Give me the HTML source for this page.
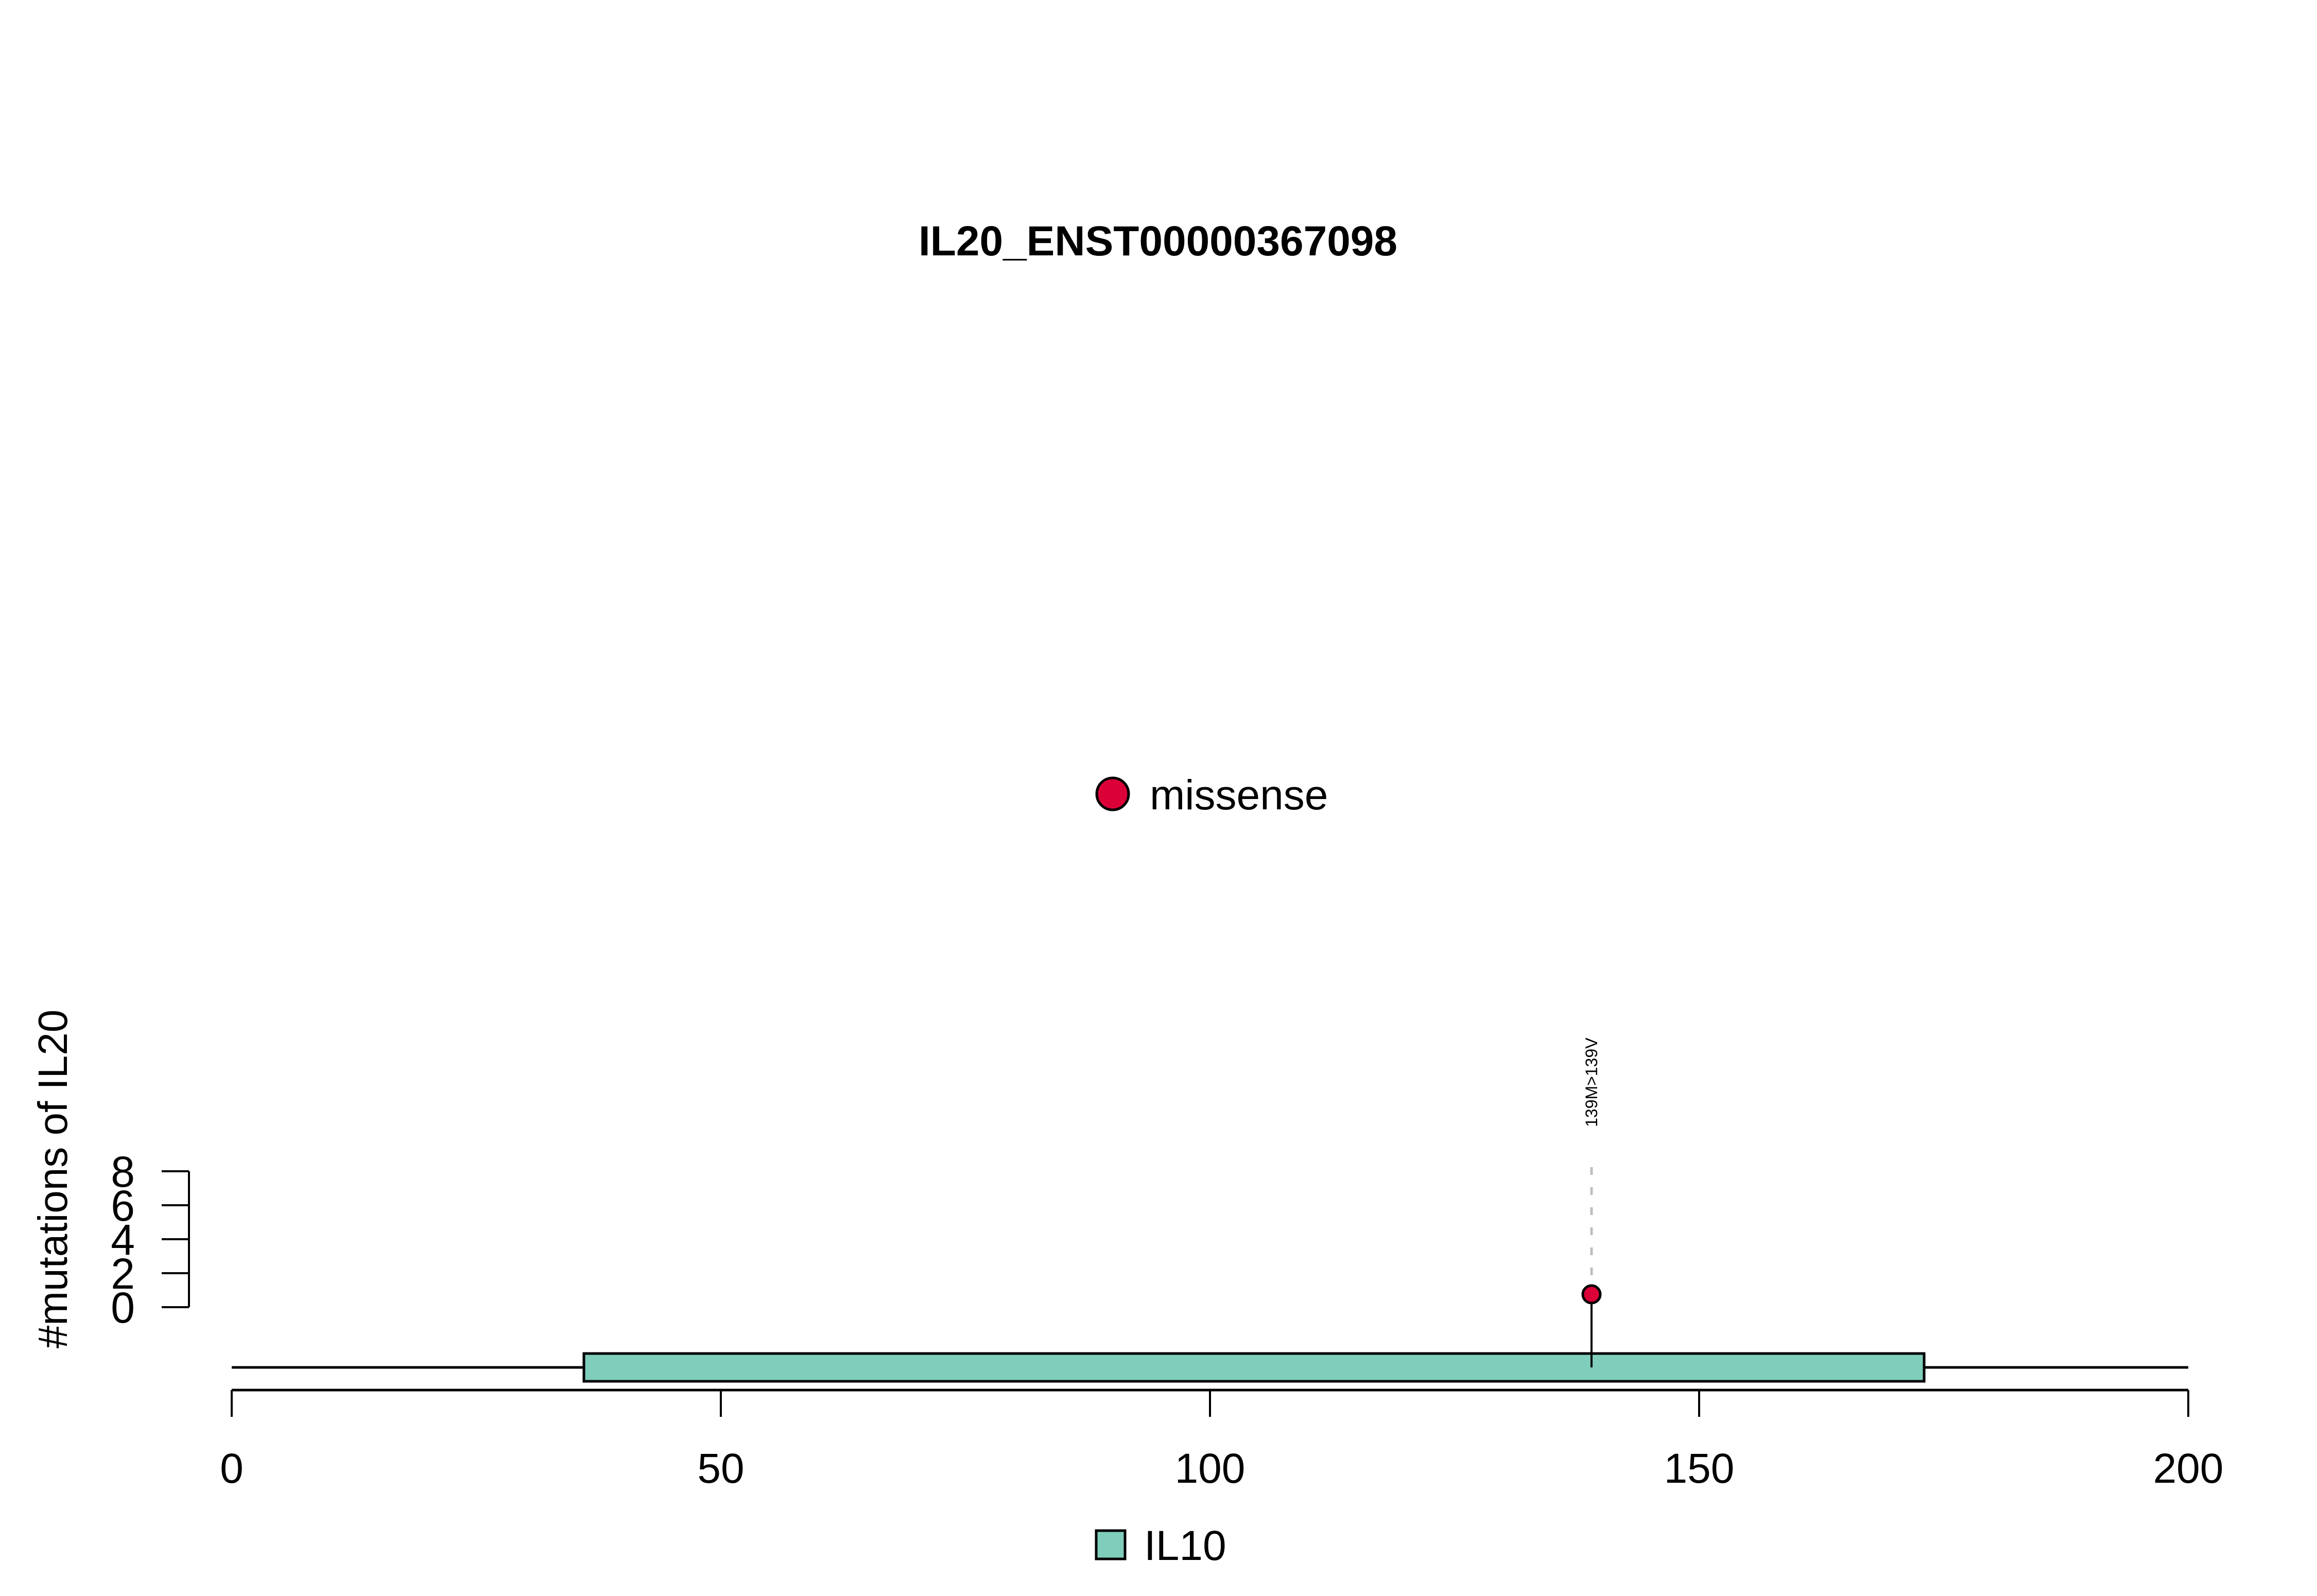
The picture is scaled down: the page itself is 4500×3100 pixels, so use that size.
<!DOCTYPE html>
<html><head><meta charset="utf-8"><style>
html,body{margin:0;padding:0;background:#fff;}
svg{display:block;font-family:"Liberation Sans",Arial,sans-serif;}
</style></head><body>
<svg id="chart" width="4500" height="3100" viewBox="0 0 4500 3100" xmlns="http://www.w3.org/2000/svg">
<rect width="4500" height="3100" fill="#fff"/>
<text x="2249" y="496" text-anchor="middle" font-size="82" font-weight="bold">IL20_ENST00000367098</text>
<g>
<circle cx="2161" cy="1542" r="31" fill="#DC0039" stroke="#000" stroke-width="5"/>
<text x="2233" y="1572" font-size="82">missense</text>
</g>
<text transform="translate(130,2290) rotate(-90)" text-anchor="middle" font-size="80">#mutations of IL20</text>
<g id="plot"></g>
<g>
<rect x="2129" y="2973" width="56" height="55" fill="#7FCDBB" stroke="#000" stroke-width="5"/>
<text x="2222" y="3030" font-size="82">IL10</text>
</g>
</svg>
<script>
const xTicks = [0, 50, 100, 150, 200];
const yTicks = [0, 2, 4, 6, 8];
const proteinLength = [200];
const domainNames = ["IL10"];
const domainStarts = [36];
const domainEnds = [173];
const mutPositions = [139];
const mutCounts = [1];
const mutLabels = ["139M>139V"];

const NS = "http://www.w3.org/2000/svg";
const g = document.getElementById("plot");
const xS = v => 450 + v * 19;
const yS = v => 2539 - v * 33;
function mk(tag, attrs, parent) {
  const e = document.createElementNS(NS, tag);
  for (const k in attrs) e.setAttribute(k, attrs[k]);
  (parent || g).appendChild(e);
  return e;
}
let ax = mk("line", {x1: xS(xTicks[0]), x2: xS(xTicks[xTicks.length-1]), y1: 2700, y2: 2700, stroke: "#000", "stroke-width": 5});


xTicks.forEach(t => {
  const tk = mk("line", {x1: xS(t), x2: xS(t), y1: 2700, y2: 2752, stroke: "#000", "stroke-width": 4});
  
  
  const lb = mk("text", {x: xS(t), y: 2880, "text-anchor": "middle", "font-size": 82});
  lb.textContent = t;
  
  
});
let ay = mk("line", {x1: 367, x2: 367, y1: yS(yTicks[0]), y2: yS(yTicks[yTicks.length-1]), stroke: "#000", "stroke-width": 4});


yTicks.forEach(t => {
  const tk = mk("line", {x1: 314, x2: 367, y1: yS(t), y2: yS(t), stroke: "#000", "stroke-width": 4});
  
  
  const lb = mk("text", {x: 262, y: yS(t) + 30, "text-anchor": "end", "font-size": 84});
  lb.textContent = t;
  
  
});
let bb = mk("line", {x1: xS(0), x2: xS(proteinLength[0]), y1: 2656, y2: 2656, stroke: "#000", "stroke-width": 5});


domainNames.forEach((n, i) => {
  const r = mk("rect", {x: xS(domainStarts[i]), y: 2629, width: xS(domainEnds[i]) - xS(domainStarts[i]), height: 54, fill: "#7FCDBB", stroke: "#000", "stroke-width": 5});
  
  
});
mutPositions.forEach((p, i) => {
  const x = xS(p), cy = yS(mutCounts[i]) + 8;
  const d = mk("line", {x1: x, x2: x, y1: 2267, y2: cy - 18, stroke: "#BEBEBE", "stroke-width": 5, "stroke-dasharray": "15 24"});
  
  
  const s = mk("line", {x1: x, x2: x, y1: 2656, y2: cy, stroke: "#000", "stroke-width": 4});
  
  
  const c = mk("circle", {cx: x, cy: cy, r: 17, fill: "#DC0039", stroke: "#000", "stroke-width": 5});
  
  
  const t = mk("text", {transform: "translate(" + (x + 11) + ",2189) rotate(-90)", "font-size": 32});
  t.textContent = mutLabels[i];
  
  
});
</script>
</body></html>
